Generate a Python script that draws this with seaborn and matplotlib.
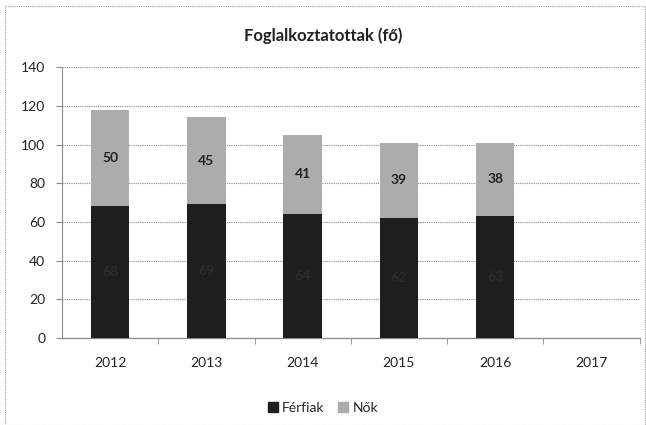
#!/usr/bin/env python3
"""Stacked bar chart: Foglalkoztatottak (fő), men vs women per year."""

import matplotlib
matplotlib.use("Agg")
import matplotlib.pyplot as plt
import pandas as pd
import seaborn as sns
from matplotlib.patches import Rectangle

YEARS = ["2012", "2013", "2014", "2015", "2016", "2017"]
DATA_YEARS = ["2012", "2013", "2014", "2015", "2016"]
FERFIAK = [68, 69, 64, 62, 63]
NOK = [50, 45, 41, 39, 38]
Y_TICKS = [0, 20, 40, 60, 80, 100, 120, 140]

DARK = "#1e1e1e"
LIGHT = "#acacac"
TEXT = "#222222"


def main() -> None:
    sns.set_style("white")
    plt.rcParams["font.family"] = ["Lato", "DejaVu Sans"]

    df = pd.DataFrame({"year": DATA_YEARS, "Férfiak": FERFIAK, "Nők": NOK})
    df["total"] = df["Férfiak"] + df["Nők"]

    fig = plt.figure(figsize=(6.46, 4.25), dpi=100)
    ax = fig.add_axes([0.096, 0.205, 0.894, 0.637])

    # stacked: draw totals (women on top) then men over them
    sns.barplot(data=df, x="year", y="total", order=YEARS, color=LIGHT,
                width=0.4, saturation=1, linewidth=0, ax=ax, zorder=3)
    sns.barplot(data=df, x="year", y="Férfiak", order=YEARS, color=DARK,
                width=0.4, saturation=1, linewidth=0, ax=ax, zorder=3)

    for i, (m, w) in enumerate(zip(FERFIAK, NOK)):
        ax.text(i, m / 2, str(m), ha="center", va="center", fontsize=10,
                fontweight="bold", color="#2c2c2c", zorder=4)
        ax.text(i, m + w / 2, str(w), ha="center", va="center", fontsize=10,
                fontweight="bold", color=TEXT, zorder=4)

    ax.set_ylim(0, 140)
    ax.set_xlim(-0.5, len(YEARS) - 0.5)
    ax.set_yticks(Y_TICKS)
    ax.set_xlabel("")
    ax.set_ylabel("")
    ax.yaxis.grid(True, linestyle=(0, (1, 1)), color="#8a8a8a", linewidth=0.8, zorder=0)
    ax.set_axisbelow(True)

    for side in ("top", "right"):
        ax.spines[side].set_visible(False)
    ax.spines["left"].set_color("#8a8a8a")
    ax.spines["left"].set_linestyle((0, (1, 1)))
    ax.spines["bottom"].set_color("#8a8a8a")
    ax.spines["bottom"].set_linewidth(0.9)

    ax.tick_params(axis="x", length=0, labelsize=10, colors=TEXT, pad=14)
    ax.tick_params(axis="y", length=4, labelsize=10, colors=TEXT, left=True,
                   color="#8a8a8a", pad=8)
    ax.set_xticks([i + 0.5 for i in range(len(YEARS))], minor=True)
    ax.tick_params(axis="x", which="minor", length=4, color="#8a8a8a", bottom=True)

    fig.text(0.5, 0.915, "Foglalkoztatottak (fő)", ha="center", va="center",
             fontsize=12, fontweight="bold", color=TEXT)

    handles = [Rectangle((0, 0), 1, 1, color=DARK), Rectangle((0, 0), 1, 1, color=LIGHT)]
    fig.legend(handles, ["Férfiak", "Nők"], loc="center", bbox_to_anchor=(0.5, 0.04),
               ncol=2, frameon=False, fontsize=10, handlelength=0.7, handleheight=0.7,
               handletextpad=0.3, columnspacing=1.0)

    border = Rectangle((0.008, 0.0), 0.99, 0.985, transform=fig.transFigure,
                       fill=False, edgecolor="#9a9a9a", linewidth=0.8,
                       linestyle=(0, (1, 1)))
    fig.patches.append(border)

    fig.savefig("out.png", dpi=100)
    plt.close(fig)


if __name__ == "__main__":
    main()
